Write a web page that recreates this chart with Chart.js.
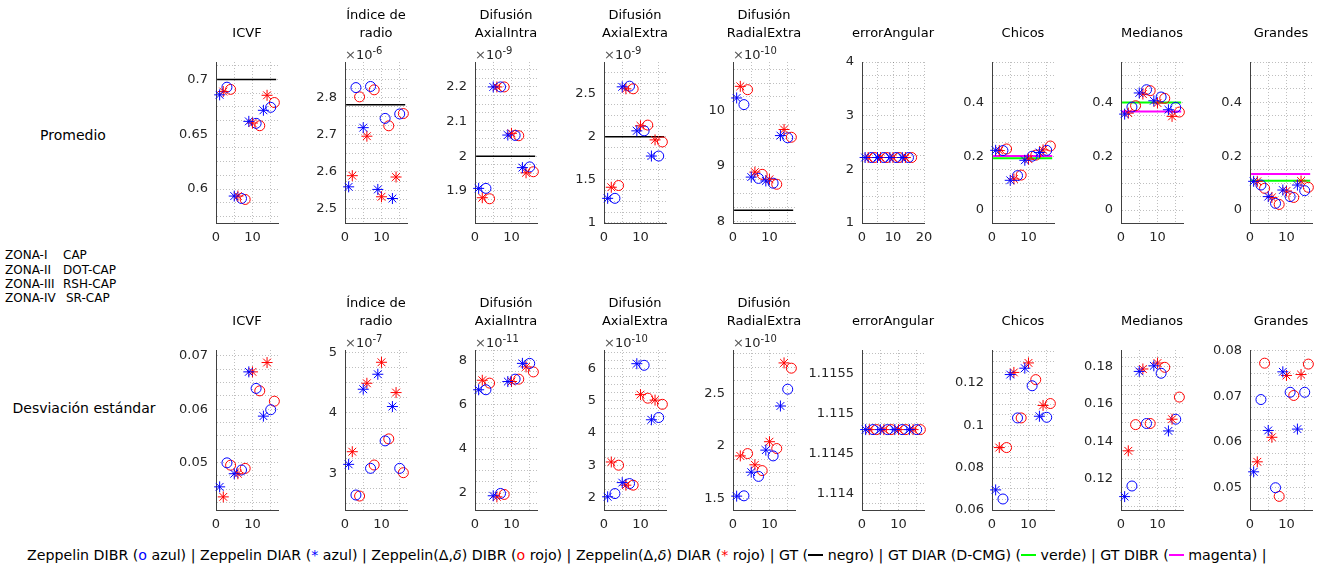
<!DOCTYPE html>
<html lang="es">
<head>
<meta charset="UTF-8">
<title>Promedio y desviación estándar por zona</title>
<script src="https://cdn.jsdelivr.net/npm/chart.js@4"></script>
<style>
    html, body { margin: 0; padding: 0; background: #fff; }
    body { font-family: 'DejaVu Sans', sans-serif; color: #000; }
    #page { position: relative; width: 1320px; height: 566px; overflow: hidden; }
    #page canvas { position: absolute; }
    .titulo { position: absolute; width: 160px; text-align: center; font-size: 13px; line-height: 18px; white-space: nowrap; }
    .exp { position: absolute; font-size: 13px; line-height: 16px; color: #262626; white-space: nowrap; }
    .exp .x { color: #555; }
    .exp sup { font-size: 10px; vertical-align: 5px; line-height: 0; }
    .fila { position: absolute; font-size: 14px; line-height: 18px; white-space: nowrap; text-align: center; }
    .zona { position: absolute; font-size: 12px; line-height: 14px; white-space: nowrap; }
    #leyenda { position: absolute; left: 27px; top: 546px; font-size: 14.2px; line-height: 18px; white-space: nowrap; }
    .az { color: #0000ff; }
    .ro { color: #ff0000; }
    .ln { display: inline-block; width: 15px; height: 2px; vertical-align: 4px; }
</style>
</head>
<body>
<div id="page">
    <div class="fila" style="left:3px; top:126px; width:140px;">Promedio</div>
    <div class="fila" style="left:-6px; top:399px; width:180px;">Desviación estándar</div>

    <div class="zona" style="left:5px; top:248px;">ZONA-I</div>
    <div class="zona" style="left:63px; top:248px;">CAP</div>
    <div class="zona" style="left:5px; top:263px;">ZONA-II</div>
    <div class="zona" style="left:63px; top:263px;">DOT-CAP</div>
    <div class="zona" style="left:5px; top:277px;">ZONA-III</div>
    <div class="zona" style="left:63px; top:277px;">RSH-CAP</div>
    <div class="zona" style="left:5px; top:291px;">ZONA-IV</div>
    <div class="zona" style="left:66px; top:291px;">SR-CAP</div>

    <div id="leyenda">Zeppelin DIBR (<span class="az">o</span> azul) | Zeppelin DIAR (<span class="az">*</span> azul) | Zeppelin(Δ,<i>δ</i>) DIBR (<span class="ro">o</span> rojo) | Zeppelin(Δ,<i>δ</i>) DIAR (<span class="ro">*</span> rojo) | GT (<span class="ln" style="background:#000"></span> negro) | GT DIAR (D-CMG) (<span class="ln" style="background:#00ff00"></span> verde) | GT DIBR (<span class="ln" style="background:#ff00ff"></span> magenta) |</div>
</div>
<script>
    // posiciones en x: por zona k -> 4k+1 DIAR azul (*), 4k+2 DIAR rojo (*), 4k+3 DIBR azul (o), 4k+4 DIBR rojo (o)
    const xPos = [1, 2, 3, 4, 5, 6, 7, 8, 9, 10, 11, 12, 13, 14, 15, 16];

    const titulos = [['ICVF'], ['Índice de', 'radio'], ['Difusión', 'AxialIntra'], ['Difusión', 'AxialExtra'],
        ['Difusión', 'RadialExtra'], ['errorAngular'], ['Chicos'], ['Medianos'], ['Grandes']];
    const expProm = [null, '-6', '-9', '-9', '-10', null, null, null, null];
    const expDesv = [null, '-7', '-11', '-10', '-10', null, null, null, null];

    // Promedio (valores escalados por el exponente del eje)
    const promICVF = [0.686, 0.689, 0.693, 0.691, 0.5936, 0.5936, 0.5914, 0.5905, 0.6618, 0.6603, 0.660, 0.6578, 0.6719, 0.6856, 0.6746, 0.679];
    const promIndice = [2.5595, 2.5896, 2.827, 2.802, 2.719, 2.696, 2.830, 2.821, 2.5525, 2.5327, 2.744, 2.724, 2.528, 2.586, 2.756, 2.757];
    const promAxIntra = [1.907, 1.880, 1.907, 1.877, 2.2, 2.2, 2.2, 2.2, 2.061, 2.066, 2.06, 2.059, 1.967, 1.952, 1.969, 1.955];
    const promAxExtra = [1.285, 1.414, 1.285, 1.434, 2.582, 2.559, 2.59, 2.559, 2.07, 2.129, 2.07, 2.137, 1.777, 1.965, 1.777, 1.941];
    const promRadExtra = [10.23, 10.44, 10.11, 10.38, 8.80, 8.89, 8.776, 8.85, 8.73, 8.76, 8.69, 8.67, 9.55, 9.66, 9.51, 9.52];
    const promErrAng = [2.22, 2.22, 2.22, 2.22, 2.22, 2.22, 2.22, 2.22, 2.22, 2.22, 2.22, 2.22, 2.22, 2.22, 2.22, 2.22];
    const promChicos = [0.222, 0.221, 0.221, 0.227, 0.1106, 0.1155, 0.128, 0.130, 0.185, 0.189, 0.2, 0.204, 0.2137, 0.2236, 0.222, 0.238];
    const promMedianos = [0.3565, 0.36, 0.3826, 0.3876, 0.435, 0.431, 0.447, 0.4435, 0.406, 0.3975, 0.42, 0.415, 0.3727, 0.348, 0.3814, 0.364];
    const promGrandes = [0.1068, 0.1068, 0.093, 0.0807, 0.05, 0.047, 0.025, 0.021, 0.0745, 0.071, 0.05, 0.047, 0.093, 0.108, 0.072, 0.0845];

    // Desviación estándar
    const desvICVF = [0.04544, 0.04356, 0.04994, 0.0495, 0.0479, 0.0479, 0.0486, 0.0489, 0.067, 0.067, 0.0639, 0.06344, 0.0587, 0.06875, 0.0599, 0.0615];
    const desvIndice = [3.149, 3.358, 2.642, 2.625, 4.391, 4.49, 3.083, 3.138, 4.639, 4.837, 3.537, 3.57, 4.105, 4.336, 3.083, 3.011];
    const desvAxIntra = [6.686, 7.12, 6.686, 6.99, 1.85, 1.80, 1.955, 1.91, 7.06, 7.06, 7.17, 7.17, 7.89, 7.73, 7.89, 7.5];
    const desvAxExtra = [2.02, 3.1, 2.12, 3.0, 2.46, 2.38, 2.43, 2.38, 6.15, 5.19, 6.1, 5.08, 4.41, 5.02, 4.48, 4.89];
    const desvRadExtra = [1.522, 1.905, 1.525, 1.927, 1.75, 1.82, 1.71, 1.765, 1.96, 2.04, 1.905, 1.975, 2.38, 2.79, 2.54, 2.74];
    const desvErrAng = [1.1148, 1.1148, 1.1148, 1.1148, 1.1148, 1.1148, 1.1148, 1.1148, 1.1148, 1.1148, 1.1148, 1.1148, 1.1148, 1.1148, 1.1148, 1.1148];
    const desvChicos = [0.0695, 0.0895, 0.0652, 0.0895, 0.124, 0.125, 0.1035, 0.1035, 0.127, 0.1295, 0.1187, 0.1216, 0.1043, 0.1094, 0.1038, 0.1103];
    const desvMedianos = [0.1102, 0.1348, 0.1159, 0.1489, 0.1775, 0.1788, 0.1495, 0.1495, 0.1805, 0.182, 0.1765, 0.1797, 0.1455, 0.1518, 0.1518, 0.1637];
    const desvGrandes = [0.0534, 0.0556, 0.0693, 0.0773, 0.0625, 0.061, 0.0499, 0.048, 0.0754, 0.0746, 0.0709, 0.0702, 0.0628, 0.0748, 0.0709, 0.0771];

    // Ground truth (solo promedio)
    const gtNegro = [0.7, 2.781, 2.0, 2.0, 8.2, null, null, null, null];
    const gtVerde = [null, null, null, null, null, null, 0.1925, 0.4, 0.109];
    const gtMagenta = [null, null, null, null, null, null, 0.201, 0.3665, 0.134];

    // Límites de ejes
    const yMinProm = [0.569, 2.462, 1.807, 0.998, 7.97, 1, -0.048, -0.048, -0.048];
    const yMaxProm = [0.716, 2.896, 2.272, 2.871, 10.88, 4, 0.55, 0.55, 0.55];
    const yPasoProm = [0.05, 0.1, 0.1, 0.5, 1, 1, 0.2, 0.2, 0.2];
    const xMaxProm = [17, 17, 17, 17, 17, 20, 17, 17, 17];
    const yMinDesv = [0.0411, 2.394, 1.2, 1.61, 1.39, 1.11379, 0.06, 0.103, 0.045];
    const yMaxDesv = [0.0711, 5.04, 8.5, 6.575, 2.913, 1.1158, 0.1356, 0.189, 0.0802];
    const yPasoDesv = [0.01, 1, 2, 1, 0.5, 0.0005, 0.02, 0.02, 0.01];
    const xMaxDesv = [17, 17, 17, 17, 17, 17, 17, 17, 17];

    const prom = [promICVF, promIndice, promAxIntra, promAxExtra, promRadExtra, promErrAng, promChicos, promMedianos, promGrandes];
    const desv = [desvICVF, desvIndice, desvAxIntra, desvAxExtra, desvRadExtra, desvErrAng, desvChicos, desvMedianos, desvGrandes];

    const series = [
        { off: 0, style: 'star', color: '#0000ff' },
        { off: 1, style: 'star', color: '#ff0000' },
        { off: 2, style: 'circle', color: '#0000ff' },
        { off: 3, style: 'circle', color: '#ff0000' }
    ];

    const page = document.getElementById('page');
    const PAD_L = 70, PAD_R = 20, PAD_T = 24, PAD_B = 30;
    const plotW = 62;
    const filas = [{ top: 62, h: 161 }, { top: 350, h: 160 }];
    const tickFont = { family: 'DejaVu Sans', size: 13 };

    function fmt(v) {
        return String(parseFloat(v.toPrecision(8)));
    }

    function buildTicks(min, max, minor, every) {
        const out = [];
        const k0 = Math.ceil(min / minor - 1e-7), k1 = Math.floor(max / minor + 1e-7);
        for (let k = k0; k <= k1; k++) {
            out.push({ value: k * minor, lab: k % every === 0 });
        }
        return out;
    }

    function addText(cls, left, top, html) {
        const d = document.createElement('div');
        d.className = cls;
        d.style.left = left + 'px';
        d.style.top = top + 'px';
        d.innerHTML = html;
        page.appendChild(d);
    }

    function panel(fila, col, valores, yMin, yMax, yPaso, xMax, exp, lineas) {
        const plotLeft = Math.round(216 + col * 129.25);
        const f = filas[fila];
        const canvas = document.createElement('canvas');
        canvas.width = PAD_L + plotW + PAD_R;
        canvas.height = PAD_T + f.h + PAD_B;
        canvas.style.left = (plotLeft - PAD_L) + 'px';
        canvas.style.top = (f.top - PAD_T) + 'px';
        page.appendChild(canvas);

        // título y exponente
        const t = titulos[col];
        t.forEach((txt, i) => {
            const cy = f.top - 29 - (t.length - 1 - i) * 18;
            addText('titulo', plotLeft + plotW / 2 - 80, cy - 9, txt);
        });
        if (exp) {
            addText('exp', plotLeft, f.top - 15, '<span class="x">×</span>10<sup>' + exp + '</sup>');
        }

        const datasets = series.map(s => ({
            data: [0, 1, 2, 3].map(k => ({ x: xPos[4 * k + s.off], y: valores[4 * k + s.off] })),
            pointStyle: s.style,
            pointRadius: s.style === 'star' ? 5.5 : 5,
            pointBorderWidth: 1,
            pointBorderColor: s.color,
            pointBackgroundColor: 'rgba(0,0,0,0)',
            showLine: false,
            clip: false
        }));
        lineas.forEach(l => {
            if (l.v === null) return;
            datasets.push({
                data: [{ x: 0.3, y: l.v }, { x: 16.5, y: l.v }],
                showLine: true,
                borderColor: l.color,
                borderWidth: l.w,
                pointRadius: 0,
                clip: false
            });
        });

        const axisBase = (min, max, minor, every, afterFit) => ({
            type: 'linear',
            min: min,
            max: max,
            afterFit: afterFit,
            afterBuildTicks: s => { s.ticks = buildTicks(min, max, minor, every); },
            ticks: {
                autoSkip: false,
                maxRotation: 0,
                color: '#262626',
                font: tickFont,
                callback: (v, i, ts) => (ts[i] && ts[i].lab ? fmt(v) : '')
            },
            grid: { color: 'rgba(0,0,0,0.25)', lineWidth: 1, drawTicks: false },
            border: { display: true, color: '#404040', width: 1, dash: [1, 2] }
        });

        const xAxis = axisBase(0, xMax, 5, 2, s => { s.height = PAD_B; });
        xAxis.ticks.padding = 7;
        const yAxis = axisBase(yMin, yMax, yPaso / 4, 4, s => { s.width = PAD_L; });
        yAxis.ticks.padding = 8;

        new Chart(canvas, {
            type: 'scatter',
            data: { datasets: datasets },
            options: {
                responsive: false,
                animation: false,
                events: [],
                layout: { padding: { left: 0, right: PAD_R, top: PAD_T, bottom: 0 }, autoPadding: false },
                plugins: { legend: { display: false }, tooltip: { enabled: false } },
                scales: { x: xAxis, y: yAxis }
            }
        });
    }

    for (let c = 0; c < 9; c++) {
        panel(0, c, prom[c], yMinProm[c], yMaxProm[c], yPasoProm[c], xMaxProm[c], expProm[c], [
            { v: gtNegro[c], color: '#000000', w: 1.5 },
            { v: gtVerde[c], color: '#00ff00', w: 2 },
            { v: gtMagenta[c], color: '#ff00ff', w: 2 }
        ]);
        panel(1, c, desv[c], yMinDesv[c], yMaxDesv[c], yPasoDesv[c], xMaxDesv[c], expDesv[c], []);
    }
</script>
</body>
</html>
